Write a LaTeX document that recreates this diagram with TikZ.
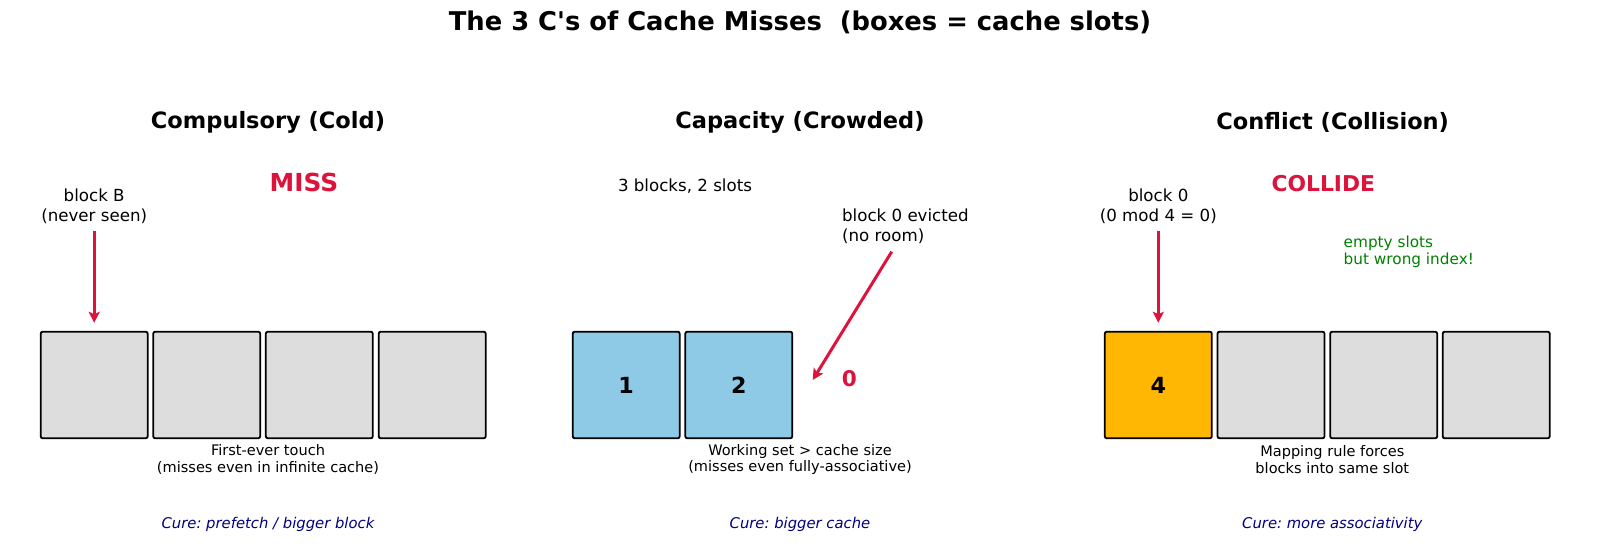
\documentclass[tikz,border=0pt]{standalone}
\usepackage{fontspec}
\setmainfont{DejaVu Sans}[Ligatures=TeXOff]
\usetikzlibrary{arrows.meta}
\definecolor{crim}{HTML}{DC143C}
\definecolor{sky}{HTML}{8ECAE6}
\definecolor{amber}{HTML}{FFB703}
\definecolor{slotgray}{HTML}{DDDDDD}
\definecolor{navyc}{HTML}{000080}
\definecolor{greenc}{HTML}{008000}
\frenchspacing
\begin{document}
\begin{tikzpicture}[x=0.5pt,y=-0.5pt,
  slot/.style={draw=black, line width=0.9pt, rounded corners=1pt, minimum width=53.5pt, minimum height=53.3pt, inner sep=0pt, fill=slotgray, font=\fontsize{11.1}{13}\selectfont\bfseries},
  maintitle/.style={font=\fontsize{12.9}{15}\selectfont\bfseries, inner sep=0pt},
  paneltitle/.style={font=\fontsize{11.25}{13}\selectfont\bfseries, inner sep=0pt},
  lbl/.style={font=\fontsize{8.33}{10}\selectfont, align=center, inner sep=0pt},
  note/.style={font=\fontsize{7.27}{8.33}\selectfont, align=center, inner sep=0pt},
  cure/.style={font=\fontsize{7.4}{9}\selectfont\itshape, text=navyc, inner sep=0pt},
  bigred/.style={font=\bfseries, text=crim, inner sep=0pt},
  redarrow/.style={draw=crim, line width=1.5pt, -{Stealth[length=5.5pt,width=5.5pt,inset=1.2pt]}}
]
\useasboundingbox (0,0) rectangle (1600,544);

\node[maintitle] (title) at (800,22.5) {The 3 C's of Cache Misses\ \ (boxes = cache slots)};

% ---------- Compulsory ----------
\node[paneltitle] (t1) at (268,122.5) {Compulsory (Cold)};
\node[bigred, font=\fontsize{12.4}{14}\selectfont\bfseries] (miss) at (304,182.7) {MISS};
\node[lbl] (lblB) at (94.2,206) {block B\\(never seen)};
\node[slot] (a1) at (94.2,385) {};
\node[slot] (a2) at (206.7,385) {};
\node[slot] (a3) at (319.3,385) {};
\node[slot] (a4) at (432.2,385) {};
\draw[redarrow, shorten <=3.5pt, shorten >=4pt] (lblB.south) -- (a1.north);
\node[note] (n1) at (268,459.5) {First-ever touch\\(misses even in infinite cache)};
\node[cure] (c1) at (268,524.5) {Cure: prefetch / bigger block};

% ---------- Capacity ----------
\node[paneltitle] (t2) at (800,122.5) {Capacity (Crowded)};
\node[lbl] (three) at (685,186) {3 blocks, 2 slots};
\node[lbl, align=left, anchor=west] (evict) at (841.7,226) {block 0 evicted\\(no room)};
\node[slot, fill=sky] (b1) at (626.2,385) {1};
\node[slot, fill=sky] (b2) at (738.8,385) {2};
\node[bigred, font=\fontsize{10.8}{13}\selectfont\bfseries] (zero) at (849.3,378.5) {0};
\coordinate (evs) at (891.7,251.7);
\coordinate (eve) at (812.7,380);
\draw[redarrow] (evs) -- (eve);
\node[note] (n2) at (800,459.5) {Working set > cache size\\(misses even fully-associative)};
\node[cure] (c2) at (800,524.5) {Cure: bigger cache};

% ---------- Conflict ----------
\node[paneltitle] (t3) at (1332.7,122.5) {Conflict (Collision)};
\node[bigred, font=\fontsize{10.9}{13}\selectfont\bfseries] (collide) at (1323.3,184) {COLLIDE};
\node[lbl] (lbl0) at (1158.3,206) {block 0\\(0 mod 4 = 0)};
\node[lbl, font=\fontsize{7.64}{8.65}\selectfont, align=left, anchor=west, text=greenc] (empty) at (1343.3,251.6) {empty slots\\but wrong index!};
\node[slot, fill=amber] (d1) at (1158.3,385) {4};
\node[slot] (d2) at (1271,385) {};
\node[slot] (d3) at (1383.7,385) {};
\node[slot] (d4) at (1496.2,385) {};
\draw[redarrow, shorten <=3.5pt, shorten >=4pt] (lbl0.south) -- (d1.north);
\node[note] (n3) at (1332.3,459.5) {Mapping rule forces\\blocks into same slot};
\node[cure] (c3) at (1332.3,524.5) {Cure: more associativity};
\end{tikzpicture}
\end{document}
